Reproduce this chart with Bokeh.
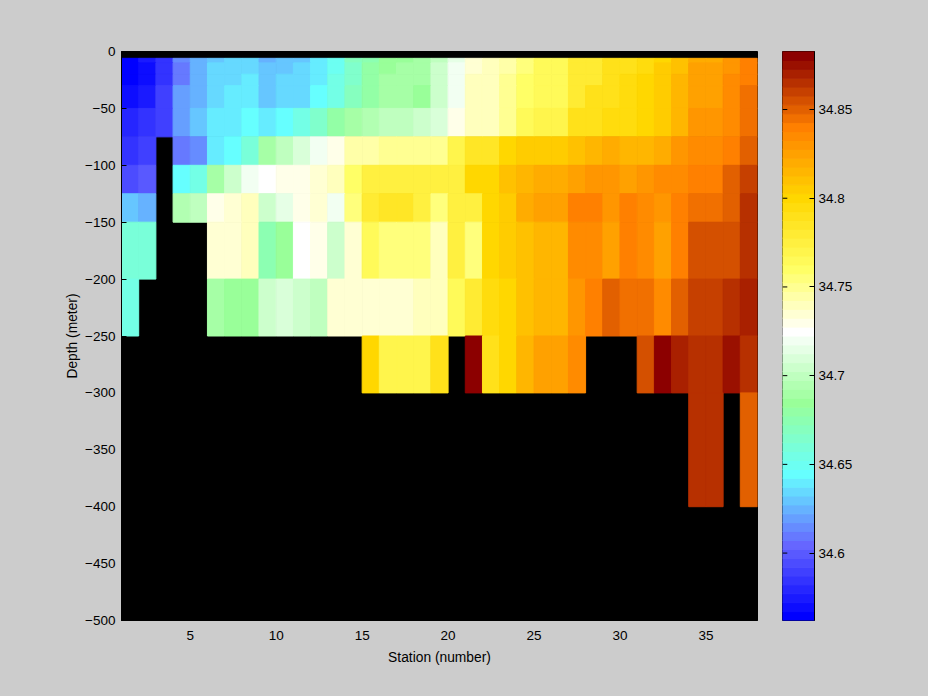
from bokeh.plotting import figure
from bokeh.models import ColumnDataSource, LinearColorMapper, FixedTicker, LinearAxis, Range1d
from bokeh.transform import transform
from bokeh.layouts import row
from bokeh.embed import file_html
from bokeh.resources import INLINE

nan = float("nan")

# Station edges: 37 cells between stations 1 and 38
station_edges = list(range(1, 39))
# Depth edges of the rows, metres (top row 0..-6 and bottom row -400..-500 have no data)
row_tops = [-6, -10, -20, -30, -50, -75, -100, -125, -150, -200, -250, -300]
row_bots = [-10, -20, -30, -50, -75, -100, -125, -150, -200, -250, -300, -400]

sal_10 = [34.565,34.575,34.585,34.615,34.625,34.630,34.635,34.635,34.625,34.630,34.630,34.640,34.650,34.670,34.675,34.685,34.685,34.690,34.700,34.715,34.735,34.740,34.745,34.755,34.765,34.765,34.780,34.780,34.790,34.790,34.795,34.800,34.810,34.820,34.820,34.830,34.840]
sal_20 = [34.565,34.570,34.585,34.610,34.625,34.635,34.635,34.635,34.630,34.630,34.635,34.640,34.650,34.665,34.680,34.685,34.690,34.690,34.705,34.720,34.735,34.740,34.745,34.755,34.765,34.765,34.780,34.780,34.790,34.790,34.795,34.805,34.810,34.825,34.825,34.830,34.840]
sal_30 = [34.565,34.570,34.585,34.610,34.625,34.635,34.635,34.640,34.630,34.635,34.635,34.640,34.655,34.665,34.680,34.690,34.690,34.690,34.705,34.720,34.740,34.740,34.750,34.760,34.765,34.765,34.780,34.780,34.790,34.795,34.800,34.805,34.815,34.825,34.825,34.835,34.840]
sal_50 = [34.570,34.575,34.590,34.620,34.625,34.635,34.640,34.640,34.630,34.635,34.635,34.645,34.655,34.670,34.680,34.690,34.690,34.685,34.705,34.720,34.740,34.740,34.750,34.760,34.765,34.765,34.780,34.790,34.790,34.795,34.800,34.805,34.815,34.825,34.825,34.835,34.845]
sal_75 = [34.580,34.585,34.590,34.620,34.630,34.640,34.640,34.645,34.640,34.645,34.655,34.665,34.680,34.690,34.695,34.700,34.700,34.705,34.710,34.730,34.740,34.740,34.750,34.765,34.770,34.770,34.790,34.790,34.795,34.795,34.800,34.805,34.815,34.830,34.830,34.835,34.845]
sal_100 = [34.585,34.590,nan,34.610,34.615,34.640,34.645,34.660,34.690,34.700,34.710,34.720,34.730,34.745,34.745,34.750,34.750,34.750,34.750,34.770,34.785,34.785,34.800,34.805,34.805,34.805,34.810,34.815,34.820,34.815,34.815,34.820,34.830,34.835,34.835,34.840,34.850]
sal_125 = [34.595,34.600,nan,34.645,34.655,34.690,34.705,34.720,34.725,34.730,34.730,34.735,34.740,34.760,34.775,34.775,34.775,34.775,34.775,34.775,34.800,34.800,34.810,34.815,34.820,34.820,34.825,34.830,34.830,34.825,34.830,34.835,34.835,34.840,34.840,34.850,34.860]
sal_150 = [34.630,34.625,nan,34.695,34.700,34.730,34.735,34.740,34.705,34.715,34.730,34.735,34.720,34.755,34.780,34.785,34.785,34.775,34.755,34.775,34.775,34.800,34.805,34.820,34.825,34.825,34.840,34.840,34.830,34.840,34.835,34.830,34.840,34.845,34.845,34.850,34.865]
sal_200 = [34.660,34.660,nan,nan,nan,34.735,34.735,34.740,34.675,34.685,34.725,34.730,34.705,34.735,34.765,34.755,34.755,34.755,34.740,34.775,34.755,34.800,34.805,34.810,34.815,34.815,34.835,34.835,34.825,34.840,34.835,34.825,34.840,34.855,34.855,34.855,34.865]
sal_250 = [34.655,nan,nan,nan,nan,34.690,34.685,34.685,34.705,34.710,34.705,34.700,34.735,34.735,34.735,34.735,34.735,34.740,34.740,34.765,34.780,34.795,34.800,34.810,34.815,34.815,34.830,34.840,34.850,34.845,34.845,34.835,34.850,34.860,34.860,34.865,34.870]
sal_300 = [nan,nan,nan,nan,nan,nan,nan,nan,nan,nan,nan,nan,nan,nan,34.800,34.770,34.770,34.770,34.790,nan,34.880,34.790,34.800,34.815,34.825,34.825,34.835,nan,nan,nan,34.855,34.880,34.870,34.865,34.865,34.875,34.865]
sal_400 = [nan]*33 + [34.865,34.865,nan,34.850]

rows_sal = [sal_10, sal_20, sal_30, sal_50, sal_75, sal_100, sal_125, sal_150, sal_200, sal_250, sal_300, sal_400]

x_ticks = [5, 10, 15, 20, 25, 30, 35]
y_ticks = [0, -50, -100, -150, -200, -250, -300, -350, -400, -450, -500]
cbar_ticks = [34.6, 34.65, 34.7, 34.75, 34.8, 34.85]
cbar_low = 34.562
cbar_high = 34.8827

# 64-level colour map, from its anchor colours
anchors = [(0, (0, 0, 255)), (8, (102, 102, 255)), (16, (102, 255, 255)), (24, (153, 255, 153)),
           (32, (255, 255, 255)), (39, (255, 255, 102)), (47, (255, 215, 0)), (55, (255, 128, 0)),
           (63, (140, 0, 0))]
palette = []
for (i0, c0), (i1, c1) in zip(anchors[:-1], anchors[1:]):
    for i in range(i0, i1):
        t = (i - i0) / (i1 - i0)
        palette.append("#%02x%02x%02x" % tuple(round(a + (b - a) * t) for a, b in zip(c0, c1)))
palette.append("#8c0000")

mapper = LinearColorMapper(palette=palette, low=cbar_low, high=cbar_high)

left, right, top, bottom, vals = [], [], [], [], []
for r, t, b in zip(rows_sal, row_tops, row_bots):
    for j, v in enumerate(r):
        if v == v:
            left.append(station_edges[j]); right.append(station_edges[j + 1])
            top.append(t); bottom.append(b); vals.append(v)
src = ColumnDataSource(dict(left=left, right=right, top=top, bottom=bottom, val=vals))

FONT = "Liberation Sans"
GREY = "#cccccc"
SIZE = "13.5px"


def style_axis(ax, standoff):
    ax.major_label_text_font = FONT
    ax.major_label_text_font_size = SIZE
    ax.major_label_text_color = "black"
    ax.major_label_standoff = standoff
    ax.axis_line_color = "black"
    ax.major_tick_line_color = "black"
    ax.minor_tick_line_color = None
    ax.major_tick_in = 5
    ax.major_tick_out = 0
    ax.axis_label_text_font = FONT
    ax.axis_label_text_font_size = "13.8px"
    ax.axis_label_text_font_style = "normal"
    ax.axis_label_text_color = "black"


p = figure(width=770, height=696, output_backend="svg", toolbar_location=None,
           x_range=Range1d(1, 38), y_range=Range1d(-500, 0),
           min_border_left=121, min_border_right=13, min_border_top=51, min_border_bottom=76,
           background_fill_color="black", border_fill_color=GREY, outline_line_color="black")
p.grid.visible = False
p.quad(left="left", right="right", top="top", bottom="bottom", source=src,
       fill_color=transform("val", mapper), line_color=transform("val", mapper), line_width=1)
p.xaxis.ticker = FixedTicker(ticks=x_ticks)
p.yaxis.ticker = FixedTicker(ticks=y_ticks)
p.xaxis.axis_label = "Station (number)"
p.yaxis.axis_label = "Depth (meter)"
style_axis(p.xaxis[0], 10); style_axis(p.yaxis[0], 6)
p.xaxis[0].axis_label_standoff = 7
p.yaxis[0].axis_label_standoff = 2

level_low = [cbar_low + (cbar_high - cbar_low) * i / 64 for i in range(64)]
level_high = [cbar_low + (cbar_high - cbar_low) * (i + 1) / 64 for i in range(64)]
cb_src = ColumnDataSource(dict(low=level_low, high=level_high, color=palette))
cb = figure(width=158, height=696, output_backend="svg", toolbar_location=None,
            x_range=Range1d(0, 1), y_range=Range1d(cbar_low, cbar_high),
            min_border_left=12, min_border_right=114, min_border_top=51, min_border_bottom=76,
            border_fill_color=GREY, outline_line_color="black", y_axis_location=None, x_axis_location=None)
cb.grid.visible = False
cb.quad(left=0, right=1, bottom="low", top="high", source=cb_src, fill_color="color", line_color="color", line_width=1)
right_ax = LinearAxis(ticker=FixedTicker(ticks=cbar_ticks))
style_axis(right_ax, 4)
cb.add_layout(right_ax, "right")
cb.segment(x0=0, x1=0.15, y0=cbar_ticks, y1=cbar_ticks, line_color="black", line_width=1)

layout = row(p, cb, spacing=0)
html = file_html(layout, INLINE)
html = html.replace("</head>", "<style>html,body{background:#cccccc}</style></head>", 1)
open("out.html", "w").write(html)
